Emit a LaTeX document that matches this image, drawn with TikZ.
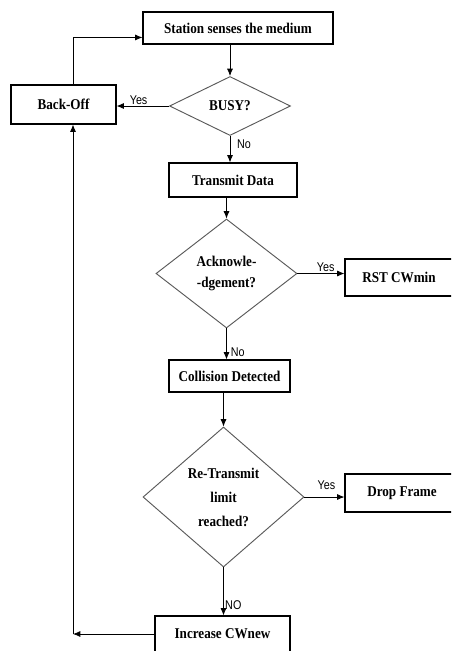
\documentclass[tikz,border=0pt]{standalone}
\usepackage{fontspec}
\setmainfont[FakeStretch=0.88]{Liberation Serif}
\newfontfamily\labelfont[FakeStretch=0.85]{Liberation Sans}
\usetikzlibrary{shapes.geometric,arrows.meta}

\tikzset{
  procbox/.style={draw, line width=0.8pt, fill=white, inner sep=2pt,
    font=\fontsize{11.2}{12}\selectfont\bfseries},
  decision/.style={diamond, draw=black!65, line width=0.7pt, inner sep=0pt, align=center,
    font=\fontsize{11.2}{16}\selectfont\bfseries},
  flow/.style={line width=0.6pt, -{Latex[length=5.5pt,width=4.5pt]}},
  answer/.style={inner sep=1pt, font=\labelfont\fontsize{9.5}{10}\selectfont}
}

\begin{document}
\begin{tikzpicture}[x=0.75pt, y=-0.75pt]
  \clip (0,0) rectangle (451,651);
  % boxes and decisions
  \node[procbox, minimum width=142.5pt, minimum height=24pt] (station) at (238,28) {Station senses the medium};
  \node[procbox, minimum width=78.75pt, minimum height=29.25pt] (backoff) at (63.5,104.5) {Back-Off};
  \node[decision, minimum width=90.75pt, minimum height=44.25pt] (busy) at (230,106) {BUSY?};
  \node[procbox, minimum width=96pt, minimum height=25.5pt] (transmit) at (233,180) {Transmit Data};
  \node[decision, minimum width=105.75pt, minimum height=81.75pt] (ack) at (226.5,273.5) {Acknowle-\\-dgement?};
  \node[procbox, minimum width=81pt, minimum height=27.75pt] (rst) at (399,277.5) {RST CWmin};
  \node[procbox, minimum width=90.75pt, minimum height=24pt] (collision) at (229.5,376) {Collision Detected};
  \node[decision, minimum width=120.75pt, minimum height=105pt, font=\fontsize{11.2}{18}\selectfont\bfseries] (retx) at (223.5,497) {Re-Transmit\\limit\\reached?};
  \node[procbox, minimum width=85.5pt, minimum height=28.5pt] (drop) at (402,493) {Drop Frame};
  \node[procbox, minimum width=101.25pt, minimum height=27pt] (increase) at (222.5,634) {Increase CWnew};
  \coordinate (loop) at (73,634);

  % connectors
  \draw[flow] (busy.north |- station.south) -- (busy.north);
  \draw[flow] (busy.west) -- (busy.west -| backoff.east) node[answer, above, pos=0.58] (yesbusy) {Yes};
  \draw[flow] (busy.south) -- (busy.south |- transmit.north) node[answer, right, pos=0.3, xshift=4pt] (nobusy) {No};
  \draw[flow] (ack.north |- transmit.south) -- (ack.north);
  \draw[flow] (ack.east) -- (ack.east -| rst.west) node[answer, above, pos=0.6] (yesack) {Yes};
  \draw[flow] (ack.south) -- (ack.south |- collision.north) node[answer, right, pos=0.75, xshift=2pt] (noack) {No};
  \draw[flow] (retx.north |- collision.south) -- (retx.north);
  \draw[flow] (retx.east) -- (retx.east -| drop.west) node[answer, above, pos=0.55, yshift=4pt] (yesretx) {Yes};
  \draw[flow] (retx.south) -- (retx.south |- increase.north) node[answer, right, pos=0.78] (noretx) {NO};
  \draw[flow] (increase.west) -- (loop);
  \draw[flow] (loop) -- (loop |- backoff.south);
  \draw[flow] (loop |- backoff.north) |- ([yshift=5.3pt]station.south west);
\end{tikzpicture}
\end{document}
